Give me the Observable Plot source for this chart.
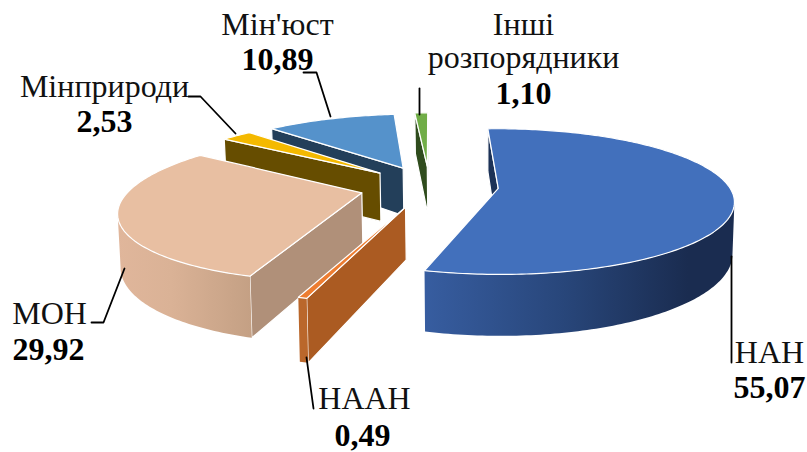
<!DOCTYPE html>
<html><head><meta charset="utf-8">
<style>html,body{margin:0;padding:0;background:#fff}svg{display:block}</style>
<script src="https://cdn.jsdelivr.net/npm/d3@7"></script>
<script src="https://cdn.jsdelivr.net/npm/@observablehq/plot@0.6"></script>
</head><body><div id="chart"></div>
<script>
// data, in drawing order clockwise from the top of the pie
const names = ["НАН", "НААН", "МОН", "Мінприроди", "Мін'юст", "Інші розпорядники"];
const values = [55.07, 0.49, 29.92, 2.53, 10.89, 1.10];

// colours per slice
const topColors = ["#4270BC", "#ED7D31", "#E8BFA2", "#F4B900", "#5592CB", "#70AD47"];
const sideColors = ["#1C3257", "#AB5B22", "#B09079", "#664D00", "#233F5A", "#2F4C1D"];
const rimColors = ["url(#rimNan)", "#BA672B", "url(#rimMon)", "#6B5200", "#2A4A6B", "#355520"];

// 3D view of the pie
const view = {X0: 429, Y0: 185.5, Xc: 488, R: 230.5, T: 69.6, D: 50, p: 0.18, lean: 0.008, explode: 0.30, startDeg: -2.6};

function project(u, v, z) {
  const s = 1 / (1 - view.p * v);
  const X = view.Xc + (view.X0 - view.Xc + view.R * u) * s;
  return [X + (view.Xc - X) * view.lean * z, view.Y0 + view.T * v * s + view.D * z * s];
}
const rad = d => d * Math.PI / 180;
const total = d3.sum(values);
const faces = [];
let acc = view.startDeg;
const slices = values.map((val, i) => {
  const a0 = acc, a1 = acc + val / total * 360;
  acc = a1;
  return {i, a0, a1};
});
function poly(points, fill, stroke) {
  faces.push({points: [...points, points[0]].map(([x, y]) => ({x, y})), fill, stroke});
}
// far slices first
const paintOrder = [5, 4, 3, 2, 1, 0];
for (const k of paintOrder) {
  const {i, a0, a1} = slices[k];
  const mid = rad((a0 + a1) / 2);
  const cu = view.explode * Math.sin(mid), cv = -view.explode * Math.cos(mid);
  const rim = (deg, z) => project(cu + Math.sin(rad(deg)), cv - Math.cos(rad(deg)), z);
  const apex = z => project(cu, cv, z);
  const n = Math.max(2, Math.ceil(a1 - a0));
  const degs = d3.range(n + 1).map(j => a0 + (a1 - a0) * j / n);
  const inside = rim((a0 + a1) / 2, 0);
  // side walls facing the viewer
  for (const deg of [a1, a0]) {
    const P = apex(0), Q = rim(deg, 0);
    const ex = Q[0] - P[0], ey = Q[1] - P[1];
    const sideIn = ex * (inside[1] - P[1]) - ey * (inside[0] - P[0]);
    const sideDown = ex * 1;
    if (sideIn * sideDown < 0) poly([P, Q, rim(deg, 1), apex(1)], sideColors[i], "white");
  }
  // outer wall, where the rim faces the viewer
  const front = degs.slice(0, -1).map((d, j) => rim(degs[j + 1], 0)[0] < rim(d, 0)[0]);
  const vis = degs.filter((d, j) => front[j] || front[j - 1]);
  if (vis.length > 1) {
    poly([...vis.map(d => rim(d, 0)), ...vis.slice().reverse().map(d => rim(d, 1))], rimColors[i], "none");
  }
  // top face
  poly([apex(0), ...degs.map(d => rim(d, 0))], topColors[i], "white");
}

// label layout
const labelFont = "Liberation Serif";
const nameLabels = [
  {t: "НАН", x: 769, y: 362}, {t: "НААН", x: 364, y: 408}, {t: "МОН", x: 49, y: 323},
  {t: "Мінприроди", x: 104, y: 96}, {t: "Мін'юст", x: 277, y: 34},
  {t: "Інші", x: 523, y: 34}, {t: "розпорядники", x: 523, y: 67}
];
const valueAnchors = [[769, 397], [362, 445], [48, 359], [104, 131], [277, 69], [523, 103]];
const valueLabels = values.map((v, i) => ({t: v.toFixed(2).replace(".", ","), x: valueAnchors[i][0], y: valueAnchors[i][1]}));
const leaders = [
  [[731, 256], [731, 362]],
  [[306, 357], [313, 408]],
  [[91, 322], [103, 322], [124, 268]],
  [[188, 96], [200, 96], [235, 133]],
  [[303, 72], [316, 72], [330, 116]],
  [[419, 88], [419, 114]]
];

const defs = () => {
  const d = d3.create("svg:defs");
  const grad = (id, stops) => {
    const g = d.append("linearGradient").attr("id", id).attr("x1", 0).attr("x2", 1).attr("y1", 0).attr("y2", 0);
    stops.forEach(([o, c]) => g.append("stop").attr("offset", o).attr("stop-color", c));
  };
  grad("rimNan", [[0, "#375DA0"], [0.45, "#28467A"], [0.85, "#1A2C50"], [1, "#1A2C50"]]);
  grad("rimMon", [[0, "#E0B69B"], [0.4, "#DAB296"], [1, "#C4A084"]]);
  return d.node();
};

const plot = Plot.plot({
  width: 807, height: 452, margin: 0,
  style: {background: "white", fontFamily: labelFont},
  x: {domain: [0, 807], range: [0, 807], axis: null},
  y: {domain: [0, 452], range: [0, 452], axis: null},
  marks: [
    defs,
    ...faces.map(f => Plot.line(f.points, {x: "x", y: "y", fill: f.fill, stroke: f.stroke, strokeWidth: 1.2, strokeLinejoin: "round"})),
    ...leaders.map(l => Plot.line(l, {x: d => d[0], y: d => d[1], stroke: "black", strokeWidth: 1.8})),
    Plot.text(nameLabels, {x: "x", y: "y", text: "t", fontSize: 32, lineAnchor: "bottom", fill: "#111", fontFamily: labelFont}),
    Plot.text(valueLabels, {x: "x", y: "y", text: "t", fontSize: 32, fontWeight: "bold", lineAnchor: "bottom", fill: "black", fontFamily: labelFont})
  ]
});
document.getElementById("chart").append(plot);
</script></body></html>
